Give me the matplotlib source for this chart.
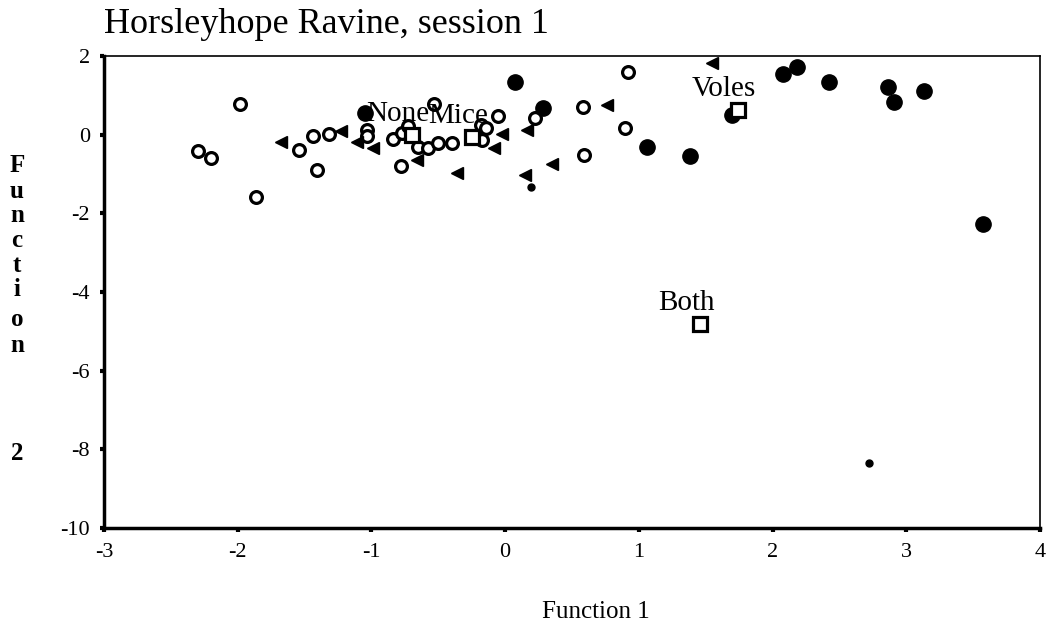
import matplotlib
matplotlib.use("Agg")
import matplotlib.pyplot as plt

plt.rcParams["font.family"] = ["Liberation Serif", "DejaVu Serif"]
plt.rcParams["axes.unicode_minus"] = False

# group "None" (open circles)
none_x = [-2.30, -2.20, -1.98, -1.86, -1.54, -1.44, -1.41, -1.32, -1.03, -1.03,
          -0.84, -0.77, -0.73, -0.78, -0.65, -0.58, -0.50, -0.40, -0.53, -0.18,
          -0.14, -0.05, -0.17, 0.22, 0.58, 0.90, 0.59, 0.92]
none_y = [-0.42, -0.59, 0.78, -1.59, -0.39, -0.03, -0.90, 0.02, 0.12, -0.03,
          -0.11, 0.04, 0.22, -0.80, -0.31, -0.34, -0.21, -0.21, 0.78, 0.25,
          0.17, 0.47, -0.14, 0.42, 0.70, 0.17, -0.52, 1.59]

# group "Mice" (filled left triangles)
mice_x = [-1.68, -1.23, -1.11, -0.99, -0.66, -0.36, -0.02, -0.08, 0.16, 0.15, 0.35, 0.76, 1.55]
mice_y = [-0.19, 0.09, -0.19, -0.34, -0.64, -0.97, 0.02, -0.34, 0.12, -1.03, -0.75, 0.75, 1.82]

# group "Voles" (filled circles)
voles_x = [-1.05, 0.07, 0.28, 1.06, 1.38, 1.70, 2.08, 2.18, 2.42, 2.86, 2.91, 3.13, 3.57]
voles_y = [0.55, 1.34, 0.68, -0.31, -0.54, 0.50, 1.54, 1.72, 1.34, 1.21, 0.83, 1.11, -2.27]

# group "Both" (small filled dots)
both_x = [0.19, 2.72]
both_y = [-1.33, -8.35]

# group centroids
cent_names = ["None", "Mice", "Voles", "Both"]
cent_x = [-0.70, -0.25, 1.74, 1.46]
cent_y = [-0.01, -0.06, 0.63, -4.81]

W, H = 1047, 631
fig = plt.figure(figsize=(W / 100, H / 100), dpi=100)
ax = fig.add_axes([104 / W, 1 - 528 / H, 936 / W, 472 / H])

ax.plot(none_x, none_y, "o", ms=8.5, mfc="white", mec="black", mew=2.3, ls="none")
ax.plot(mice_x, mice_y, "<", ms=8.5, color="black", ls="none")
ax.plot(voles_x, voles_y, "o", ms=11, color="black", ls="none")
ax.plot(both_x, both_y, "o", ms=5, color="black", ls="none")
ax.plot(cent_x, cent_y, "s", ms=9.5, mfc="white", mec="black", mew=2.3, ls="none")

for name, cx, cy in zip(cent_names, cent_x, cent_y):
    ax.annotate(name, (cx, cy), xytext=(-10, 15), textcoords="offset points",
                ha="center", va="center", fontsize=21)

ax.set_xlim(-3, 4)
ax.set_ylim(-10, 2)
ax.set_xticks(range(-3, 5))
ax.set_yticks(range(-10, 3, 2))
ax.tick_params(direction="out", length=3, width=3, labelsize=16)
ax.tick_params(axis="x", pad=8)
ax.tick_params(axis="y", pad=7)
for side in ["left", "bottom"]:
    ax.spines[side].set_linewidth(2.5)
for side in ["top", "right"]:
    ax.spines[side].set_linewidth(1.2)

fig.text(104 / W, 1 - 33 / H, "Horsleyhope Ravine, session 1", ha="left", va="baseline", fontsize=26)
fig.text(596 / W, 1 - 612 / H, "Function 1", ha="center", va="center", fontsize=18)

ylab_chars = ["F", "u", "n", "c", "t", "i", "o", "n", "2"]
ylab_pix = [165, 191, 215, 240, 266, 290, 320, 345, 453]
for ch, py in zip(ylab_chars, ylab_pix):
    fig.text(17 / W, 1 - py / H, ch, ha="center", va="center", fontsize=18, fontweight="bold")

fig.savefig("out.png", dpi=100)
